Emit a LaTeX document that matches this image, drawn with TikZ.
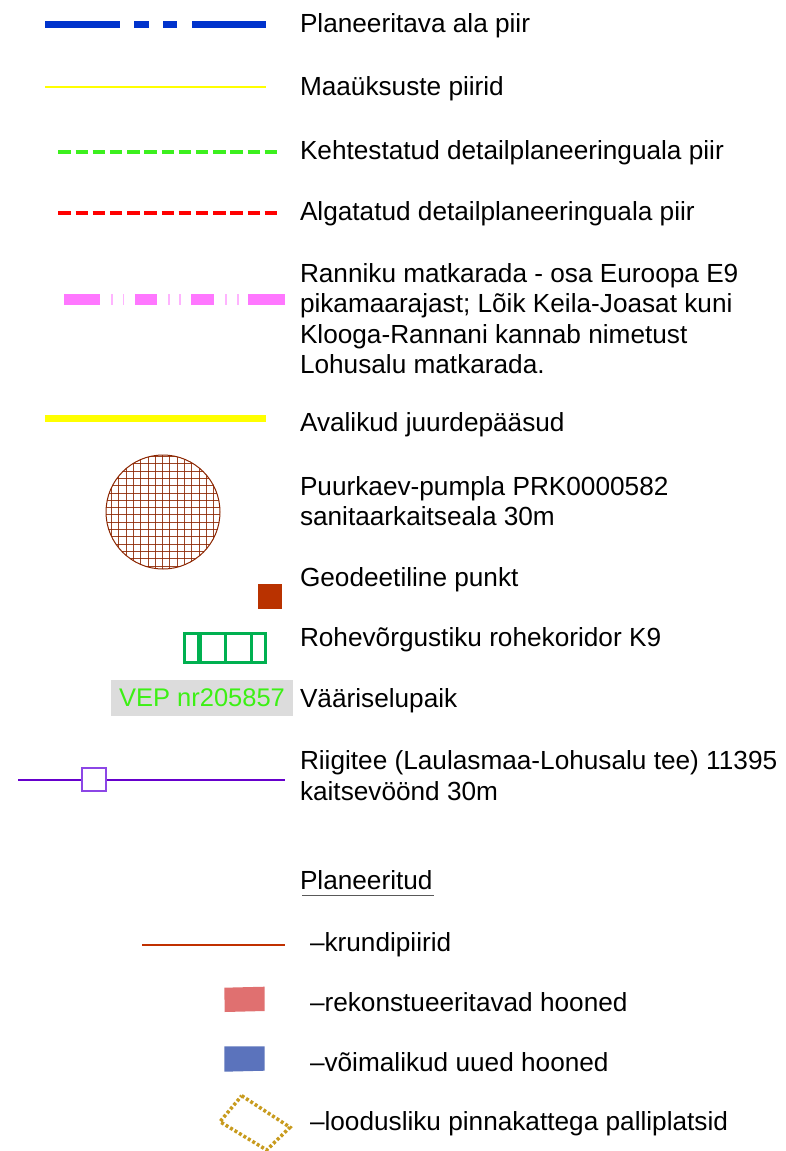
\documentclass[tikz,border=0pt]{standalone}
\usepackage{fontspec}
\setmainfont{Liberation Sans}
\definecolor{cblue}{RGB}{0,51,204}
\definecolor{cyel}{RGB}{255,255,0}
\definecolor{cgreen}{RGB}{60,240,30}
\definecolor{cred}{RGB}{255,0,0}
\definecolor{cpink}{RGB}{255,119,255}
\definecolor{cpinkl}{RGB}{255,180,255}
\definecolor{cbrown}{RGB}{139,37,0}
\definecolor{cgeo}{RGB}{185,50,0}
\definecolor{ck9}{RGB}{0,176,80}
\definecolor{cvepbg}{RGB}{220,220,220}
\definecolor{cvep}{RGB}{60,240,20}
\definecolor{croad}{RGB}{102,0,204}
\definecolor{croadsq}{RGB}{140,70,230}
\definecolor{ckrunt}{RGB}{192,48,0}
\definecolor{crekon}{RGB}{224,112,112}
\definecolor{cuued}{RGB}{91,115,188}
\definecolor{cpall}{RGB}{200,155,30}
\begin{document}
\begin{tikzpicture}[x=1pt,y=-1pt,
  every node/.style={inner sep=0pt,outer sep=0pt},
  lbl/.style={anchor=base west,font=\fontsize{26.2}{30.5}\selectfont},
  bluedd/.style={draw=cblue,line width=7.5},
  thinyel/.style={draw=cyel,line width=2},
  greendash/.style={draw=cgreen,line width=4,dash pattern=on 12.5 off 4.7},
  reddash/.style={draw=cred,line width=4,dash pattern=on 12.5 off 4.7},
  pinkseg/.style={draw=cpink,line width=11},
  pinkbar/.style={draw=cpinkl,line width=1.8},
  thickyel/.style={draw=cyel,line width=7},
  gridline/.style={draw=cbrown,line width=1.1,draw opacity=0.85},
  k9box/.style={draw=ck9,line width=3},
  roadline/.style={draw=croad,line width=2.5},
  roadsq/.style={draw=croadsq,fill=white,line width=1.5},
  krunt/.style={draw=ckrunt,line width=2.5},
  pallbox/.style={draw=cpall,line width=3.5,dash pattern=on 3 off 2.2}]
\useasboundingbox (0,0) rectangle (785,1151);

% 1 Planeeritava ala piir
\draw[bluedd] (45,24.5) -- (120,24.5) (134,24.5) -- (149,24.5)
  (163,24.5) -- (177,24.5) (192,24.5) -- (266,24.5);
\node[lbl] (t1) at (300,32.8) {Planeeritava ala piir};

% 2 Maaüksuste piirid
\draw[thinyel] (45,87) -- (266,87);
\node[lbl] (t2) at (300,95.5) {Maaüksuste piirid};

% 3 Kehtestatud
\draw[greendash] (58.3,151.5) -- (279.3,151.5);
\node[lbl] (t3) at (300,159) {Kehtestatud detailplaneeringuala piir};

% 4 Algatatud
\draw[reddash] (58.3,212.5) -- (279.3,212.5);
\node[lbl] (t4) at (300,220.5) {Algatatud detailplaneeringuala piir};

% 5 Ranniku matkarada
\draw[pinkseg] (64,299.5) -- (100.3,299.5) (135,299.5) -- (157.3,299.5)
  (191.3,299.5) -- (214,299.5) (248,299.5) -- (285,299.5);
\draw[pinkbar] (111.7,294) -- (111.7,305) (123.5,294) -- (123.5,305)
  (168.7,294) -- (168.7,305) (180.3,294) -- (180.3,305)
  (225.6,294) -- (225.6,305) (237.6,294) -- (237.6,305);
\node[lbl] (t5a) at (300,282) {Ranniku matkarada - osa Euroopa E9};
\node[lbl] (t5b) at (300,312.5) {pikamaarajast; Lõik Keila-Joasat kuni};
\node[lbl] (t5c) at (300,343) {Klooga-Rannani kannab nimetust};
\node[lbl] (t5d) at (300,373.5) {Lohusalu matkarada.};

% 6 Avalikud juurdepääsud
\draw[thickyel] (45,418.5) -- (266,418.5);
\node[lbl] (t6) at (300,431) {Avalikud juurdepääsud};

% 7 Puurkaev
\begin{scope}
  \clip (163,512) circle (57);
  \foreach \k in {-1,...,16} {
    \pgfmathsetmacro{\gx}{round(111+7.3*\k)+0.5}
    \pgfmathsetmacro{\gy}{round(463.3+7.3*\k)+0.5}
    \draw[gridline] (\gx,450) -- (\gx,575);
    \draw[gridline] (100,\gy) -- (226,\gy);
  }
\end{scope}
\draw[draw=cbrown,line width=1] (163,512) circle (57);
\node[lbl] (t7a) at (300,495) {Puurkaev-pumpla PRK0000582};
\node[lbl] (t7b) at (300,525.5) {sanitaarkaitseala 30m};

% 8 Geodeetiline punkt
\fill[cgeo] (258,584) rectangle (282,609);
\node[lbl] (t8) at (300,586) {Geodeetiline punkt};

% 9 Rohevõrgustiku rohekoridor
\draw[k9box] (184.5,633.5) rectangle (265.5,662);
\draw[k9box] (198.5,633.5) -- (198.5,662) (225.7,633.5) -- (225.7,662)
  (251.7,633.5) -- (251.7,662);
\draw[draw=ck9,line width=2] (201.2,633.5) -- (201.2,662);
\node[lbl] (t9) at (300,646) {Rohevõrgustiku rohekoridor K9};

% 10 VEP
\node[fill=cvepbg,text=cvep,font=\fontsize{25.5}{30.5}\selectfont,
  minimum width=182pt,minimum height=36pt] (vep) at (202,698) {VEP nr205857};
\node[lbl] (t10) at (300,707) {Vääriselupaik};

% 11 Riigitee
\draw[roadline] (18.3,780) -- (285,780);
\draw[roadsq] (82,768) rectangle (106,791);
\node[lbl] (t11a) at (300,769) {Riigitee (Laulasmaa-Lohusalu tee) 11395};
\node[lbl] (t11b) at (300,800) {kaitsevöönd 30m};

% 12 Planeeritud
\node[lbl] (t12) at (300,889) {Planeeritud};
\draw[draw=black!65,line width=1.4] (302,895.5) -- (434,895.5);

% 13 krundipiirid
\draw[krunt] (142,945) -- (285,945);
\node[lbl] (t13) at (310,951.7) {–krundipiirid};

% 14 rekonstrueeritavad
\fill[crekon] (224.3,987.7) -- (264.7,986.7) -- (264.7,1011) -- (224.7,1012) -- cycle;
\node[lbl] (t14) at (310,1011.7) {–rekonstueeritavad hooned};

% 15 uued hooned
\fill[cuued] (224.3,1046.3) -- (264.7,1046.3) -- (264.7,1070.7) -- (224.3,1071.7) -- cycle;
\node[lbl] (t15) at (310,1071.7) {–võimalikud uued hooned};

% 16 palliplatsid
\draw[pallbox] (241.7,1095.7) -- (290,1127.3) -- (266.7,1150) -- (220,1121.7) -- cycle;
\node[lbl] (t16) at (310,1130.7) {–loodusliku pinnakattega palliplatsid};
\end{tikzpicture}
\end{document}
